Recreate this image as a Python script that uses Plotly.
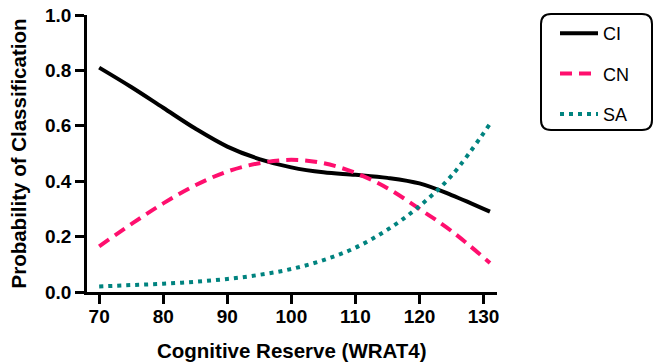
import plotly.graph_objects as go

wrat = [70, 75, 80, 85, 90, 95, 100, 105, 110, 115, 120, 125, 131]
ci = [0.81, 0.74, 0.665, 0.59, 0.525, 0.48, 0.45, 0.432, 0.423, 0.412, 0.392, 0.35, 0.29]
cn = [0.165, 0.245, 0.32, 0.385, 0.435, 0.465, 0.477, 0.465, 0.43, 0.375, 0.30, 0.22, 0.105]
sa = [0.02, 0.025, 0.03, 0.037, 0.047, 0.062, 0.083, 0.115, 0.16, 0.225, 0.31, 0.42, 0.607]

x_ticks = [70, 80, 90, 100, 110, 120, 130]
y_ticks = [0.0, 0.2, 0.4, 0.6, 0.8, 1.0]

W, H = 655, 364
L, R, T, B = 87, 158, 15, 72
pw, ph = W - L - R, H - T - B

fig = go.Figure()
fig.add_trace(go.Scatter(x=wrat, y=ci, name="CI", mode="lines", legendgroup="a",
                         line=dict(color="black", width=4, shape="spline")))
fig.add_trace(go.Scatter(x=wrat, y=cn, name="CN", mode="lines", legendgroup="b",
                         line=dict(color="#FF0F6E", width=4, shape="spline", dash="12px,7px")))
fig.add_trace(go.Scatter(x=wrat, y=sa, name="SA", mode="lines", legendgroup="c",
                         line=dict(color="#00837F", width=4, shape="spline", dash="4px,5px")))

def px2paper(px, py):
    return (px - L) / pw, (H - B - py) / ph

# rounded legend box
x0, y0, x1, y1, r = 541, 14, 652, 130, 10
def P(px, py):
    a, b = px2paper(px, py)
    return f"{a:.5f},{b:.5f}"
path = (f"M {P(x0+r,y0)} L {P(x1-r,y0)} Q {P(x1,y0)} {P(x1,y0+r)} "
        f"L {P(x1,y1-r)} Q {P(x1,y1)} {P(x1-r,y1)} L {P(x0+r,y1)} "
        f"Q {P(x0,y1)} {P(x0,y1-r)} L {P(x0,y0+r)} Q {P(x0,y0)} {P(x0+r,y0)} Z")
fig.add_shape(type="path", path=path, xref="paper", yref="paper",
              line=dict(color="black", width=2))

lx, ly = px2paper(555, 15)
tx, ty = px2paper(292, 350)
fig.add_annotation(text="<b>Cognitive Reserve (WRAT4)</b>", x=tx, y=ty, xref="paper", yref="paper",
                   xanchor="center", yanchor="middle", showarrow=False, font=dict(size=20.5))
fig.update_layout(
    width=W, height=H,
    margin=dict(l=L, r=R, t=T, b=B, autoexpand=False),
    plot_bgcolor="white", paper_bgcolor="white",
    font=dict(family="Liberation Sans, Arial, sans-serif", color="black"),
    showlegend=True,
    legend=dict(x=lx, y=ly, xanchor="left", yanchor="top",
                font=dict(size=18), tracegroupgap=14, itemwidth=38,
                bgcolor="rgba(0,0,0,0)", borderwidth=0),
    xaxis=dict(range=[68.1, 132.1], tickvals=x_ticks, automargin=False,
               ticktext=[f"<b>{v}</b>" for v in x_ticks], ticklabelstandoff=-4,
               tickfont=dict(size=19), showgrid=False, zeroline=False,
               showline=True, linecolor="black", linewidth=2.5,
               ticks="outside", ticklen=9, tickwidth=2.5, tickcolor="black"),
    yaxis=dict(range=[0, 1.0], tickvals=y_ticks, automargin=False,
               ticktext=[f"<b>{v:.1f}</b>" for v in y_ticks],
               tickfont=dict(size=19), showgrid=False, zeroline=False,
               showline=True, linecolor="black", linewidth=2.5,
               ticks="outside", ticklen=9, tickwidth=2.5, tickcolor="black",
               title=dict(text="<b>Probability of Classification</b>", font=dict(size=20.5), standoff=13)),
)

fig.write_html("out.html", config={"displayModeBar": False},
               post_script="document.body.style.margin='0';")
